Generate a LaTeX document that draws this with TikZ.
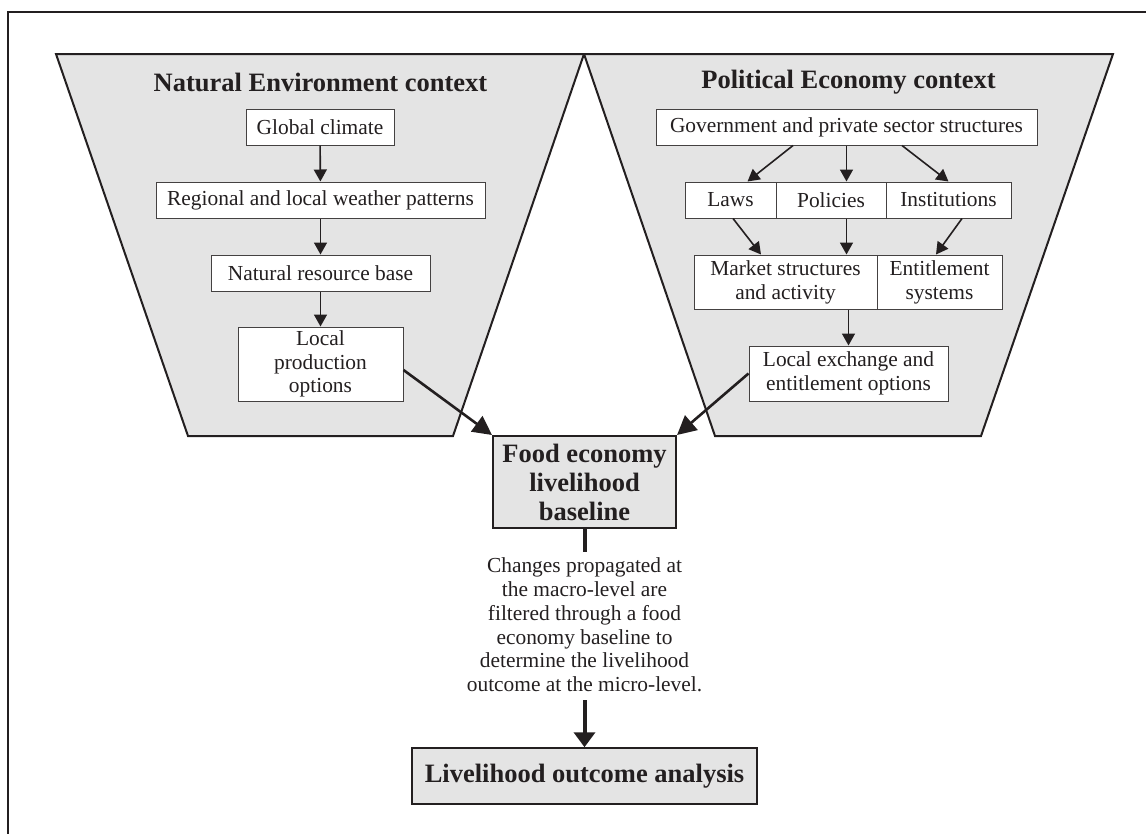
\documentclass[tikz,border=0pt]{standalone}
\usepackage{fontspec}
\setmainfont{Liberation Serif}
\usetikzlibrary{arrows.meta,calc}
\definecolor{ink}{RGB}{35,31,32}
\definecolor{bg}{RGB}{228,228,228}
\begin{document}
\begin{tikzpicture}[x=1pt,y=-1pt,
  box/.style={draw=ink!85, line width=1pt, fill=white, inner sep=0pt, align=center, text=ink,
    font=\fontsize{21.4}{23.8}\selectfont},
  gbox/.style={draw=ink, fill=bg, inner sep=0pt, align=center, text=ink,
    font=\fontsize{26.5}{29}\selectfont\bfseries},
  title/.style={text=ink, inner sep=0pt, font=\fontsize{26.5}{30}\selectfont\bfseries},
  arr/.style={draw=ink, line width=1.6pt, -{Triangle[length=12pt,width=13pt]}},
  bigarr/.style={draw=ink, line width=2.6pt, -{Triangle[length=19pt,width=19pt]}},
  fatarr/.style={draw=ink, line width=4pt, -{Triangle[length=15pt,width=21pt]}},
  trap/.style={draw=ink, fill=bg, line width=2pt, line join=miter},
]
\useasboundingbox (0,0) rectangle (1146,833);
% outer frame (cropped at right and bottom)
\draw[ink, line width=2pt] (1150,12) -- (8,12) -- (8,840);
% the two context funnels
\draw[trap] (56,54) -- (584,54) -- (453,436) -- (188,436) -- cycle;
\draw[trap] (584,54) -- (1113,54) -- (981,436) -- (715,436) -- cycle;
% titles
\node[title] (tne) at (320.5,82) {Natural Environment context};
\node[title] (tpe) at (848.5,82) {Political Economy context};
% left column
\node[box, minimum width=148pt, minimum height=36pt] (glob) at (320,127) {Global climate};
\node[box, minimum width=329pt, minimum height=36pt] (reg) at (320.5,200) {Regional and local weather patterns};
\node[box, minimum width=219pt, minimum height=36pt] (nrb) at (320.5,273) {Natural resource base};
\node[box, minimum width=165pt, minimum height=74pt] (lpo) at (320.5,364) {Local\\production\\options};
% right column
\node[box, minimum width=381pt, minimum height=36pt] (gov) at (846.5,127) {Government and private sector structures};
\node[box, minimum width=91pt, minimum height=36pt] (laws) at (730.5,200) {Laws};
\node[box, minimum width=110pt, minimum height=36pt] (pol) at (831,200) {Policies};
\node[box, minimum width=125pt, minimum height=36pt] (inst) at (948.5,200) {Institutions};
\node[box, minimum width=183pt, minimum height=54pt] (mkt) at (785.5,282) {Market structures\\and activity};
\node[box, minimum width=125pt, minimum height=54pt] (ent) at (939.5,282) {Entitlement\\systems};
\node[box, minimum width=199pt, minimum height=55pt] (lex) at (848.5,373.5) {Local exchange and\\entitlement options};
% centre
\node[gbox, line width=2pt, minimum width=183pt, minimum height=92pt] (food) at (584.5,482) {Food economy\\livelihood\\baseline};
\node[text=ink, inner sep=0pt, align=center, font=\fontsize{21.4}{23.8}\selectfont] (chg) at (584.5,625)
  {Changes propagated at\\the macro-level are\\filtered through a food\\economy baseline to\\determine the livelihood\\outcome at the micro-level.};
\node[gbox, line width=1.5pt, minimum width=345pt, minimum height=56pt] (liv) at (584.5,776) {Livelihood outcome analysis};
\coordinate (c1) at (584.5,552);
\coordinate (c2) at (584.5,700);
% connectors, left
\draw[arr] (glob) -- (reg);
\draw[arr] (reg) -- (nrb);
\draw[arr] (nrb) -- (lpo);
% connectors, right
\draw[arr] ([xshift=-53.5pt]gov.south) -- ([xshift=17pt]laws.north);
\draw[arr] (gov.south) -- (gov.south |- pol.north);
\draw[arr] ([xshift=55.5pt]gov.south) -- (inst.north);
\draw[arr] ([xshift=2.5pt]laws.south) -- ([xshift=-24.5pt]mkt.north);
\draw[arr] (gov.south |- pol.south) -- (gov.south |- mkt.north);
\draw[arr] ([xshift=13.5pt]inst.south) -- ([xshift=-3.5pt]ent.north);
\draw[arr] (lex.north |- mkt.south) -- (lex.north);
% into the baseline
\draw[bigarr] ([yshift=-6pt]lpo.east) -- (food.north west);
\draw[bigarr] (lex.west) -- (food.north east);
% down to the outcome
\draw[ink, line width=4pt] (food.south) -- (c1);
\draw[fatarr] (c2) -- (liv.north);
\end{tikzpicture}
\end{document}
